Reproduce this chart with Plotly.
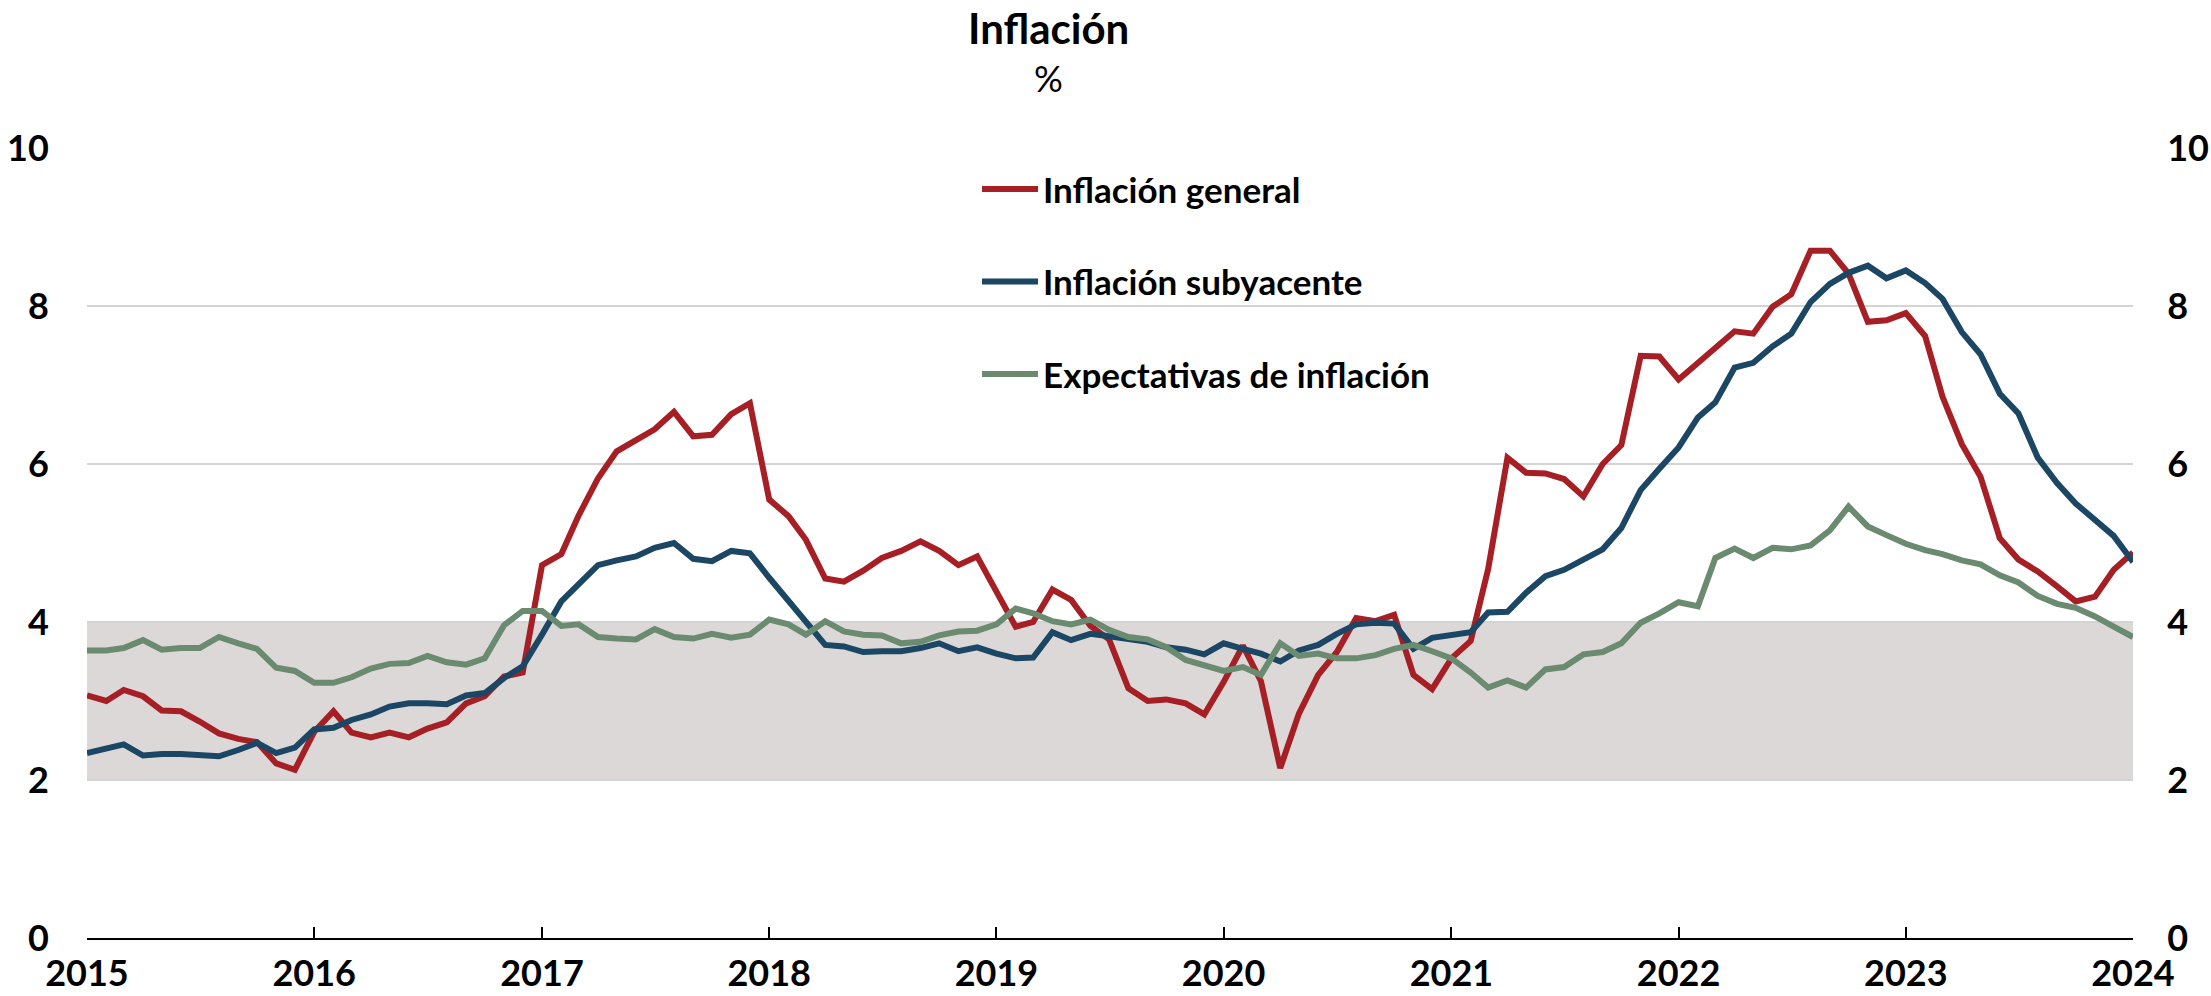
import pandas as pd
import plotly.graph_objects as go

# Monthly dates, Jan 2015 - Jan 2024
dates = pd.date_range("2015-01-01", "2024-01-01", freq="MS")

# Inflación general (% anual)
general = [
    3.07, 3.00, 3.14, 3.06, 2.88, 2.87, 2.74, 2.59, 2.52, 2.48, 2.21, 2.13,
    2.61, 2.87, 2.60, 2.54, 2.60, 2.54, 2.65, 2.73, 2.97, 3.06, 3.31, 3.36,
    4.72, 4.86, 5.35, 5.82, 6.16, 6.31, 6.44, 6.66, 6.35, 6.37, 6.63, 6.77,
    5.55, 5.34, 5.04, 4.55, 4.51, 4.65, 4.81, 4.90, 5.02, 4.90, 4.72, 4.83,
    4.37, 3.94, 4.00, 4.41, 4.28, 3.95, 3.78, 3.16, 3.00, 3.02, 2.97, 2.83,
    3.24, 3.70, 3.25, 2.15, 2.84, 3.33, 3.62, 4.05, 4.01, 4.09, 3.33, 3.15,
    3.54, 3.76, 4.67, 6.08, 5.89, 5.88, 5.81, 5.59, 6.00, 6.24, 7.37, 7.36,
    7.07, 7.28, 7.45, 7.68, 7.65, 7.99, 8.15, 8.70, 8.70, 8.41, 7.80, 7.82,
    7.91, 7.62, 6.85, 6.25, 5.84, 5.06, 4.79, 4.64, 4.45, 4.26, 4.32, 4.66,
    4.88,
]

# Inflación subyacente
subyacente = [
    2.34, 2.40, 2.45, 2.31, 2.33, 2.33, 2.31, 2.30, 2.38, 2.47, 2.34, 2.41,
    2.64, 2.66, 2.76, 2.83, 2.93, 2.97, 2.97, 2.96, 3.07, 3.10, 3.29, 3.44,
    3.84, 4.26, 4.48, 4.72, 4.78, 4.83, 4.94, 5.00, 4.80, 4.77, 4.90, 4.87,
    4.56, 4.27, 4.02, 3.71, 3.69, 3.62, 3.63, 3.63, 3.67, 3.73, 3.63, 3.68,
    3.60, 3.54, 3.55, 3.87, 3.77, 3.85, 3.82, 3.78, 3.75, 3.68, 3.65, 3.59,
    3.73, 3.66, 3.60, 3.50, 3.64, 3.71, 3.85, 3.97, 3.99, 3.98, 3.66, 3.80,
    3.84, 3.87, 4.12, 4.13, 4.37, 4.58, 4.66, 4.78, 4.92, 5.19, 5.67, 5.94,
    6.21, 6.59, 6.78, 7.22, 7.28, 7.49, 7.65, 8.05, 8.28, 8.42, 8.51, 8.35,
    8.45, 8.29, 8.09, 7.67, 7.39, 6.89, 6.64, 6.08, 5.76, 5.50, 5.30, 5.09,
    4.76,
]

# Expectativas de inflación
expectativas = [
    3.64, 3.64, 3.67, 3.77, 3.65, 3.67, 3.67, 3.81, 3.73, 3.66, 3.42, 3.38,
    3.23, 3.23, 3.30, 3.41, 3.47, 3.48, 3.57, 3.49, 3.46, 3.54, 3.96, 4.14,
    4.14, 3.95, 3.97, 3.81, 3.79, 3.78, 3.91, 3.81, 3.79, 3.85, 3.80, 3.84,
    4.03, 3.97, 3.84, 4.01, 3.88, 3.84, 3.83, 3.73, 3.75, 3.83, 3.88, 3.89,
    3.97, 4.17, 4.11, 4.01, 3.97, 4.03, 3.90, 3.81, 3.78, 3.68, 3.52, 3.45,
    3.38, 3.43, 3.33, 3.73, 3.57, 3.60, 3.54, 3.54, 3.58, 3.66, 3.71, 3.63,
    3.54, 3.36, 3.17, 3.26, 3.17, 3.40, 3.43, 3.59, 3.62, 3.73, 3.99, 4.11,
    4.25, 4.20, 4.81, 4.93, 4.81, 4.94, 4.92, 4.97, 5.16, 5.46, 5.21, 5.10,
    4.99, 4.91, 4.86, 4.78, 4.73, 4.59, 4.50, 4.33, 4.23, 4.18, 4.07, 3.94,
    3.81,
]

# Target band (3% +/- 1)
band_low, band_high = 2, 4

year_ticks = pd.date_range("2015-01-01", "2024-01-01", freq="YS")
year_labels = [str(d.year) for d in year_ticks]
y_ticks = [0, 2, 4, 6, 8, 10]

FONT = "Lato"
tick_font = dict(family=FONT, size=36, weight="bold")

fig = go.Figure()

fig.add_trace(go.Scatter(x=dates, y=general, mode="lines", name="Inflación general",
                         line=dict(color="#a61f24", width=6), legendgroup="a"))
fig.add_trace(go.Scatter(x=dates, y=subyacente, mode="lines", name="Inflación subyacente",
                         line=dict(color="#1b4765", width=6), legendgroup="b"))
fig.add_trace(go.Scatter(x=dates, y=expectativas, mode="lines", name="Expectativas de inflación",
                         line=dict(color="#6a8b6f", width=6), legendgroup="c"))
# invisible trace so the right-hand axis is drawn
fig.add_trace(go.Scatter(x=dates, y=general, yaxis="y2", mode="lines", line=dict(width=0),
                         showlegend=False, hoverinfo="skip"))

fig.add_shape(type="rect", xref="paper", yref="y", x0=0, x1=1, y0=band_low, y1=band_high,
              fillcolor="#dcd8d8", line_width=0, layer="below")

fig.update_layout(
    width=2211, height=996,
    paper_bgcolor="white", plot_bgcolor="white",
    margin=dict(l=87, r=78, t=148, b=58),
    font=dict(family=FONT, size=30, color="black"),
    showlegend=True,
    legend=dict(x=0.435, y=0.985, xanchor="left", yanchor="top",
                font=dict(family=FONT, size=35, weight="bold"),
                traceorder="grouped", tracegroupgap=44, itemwidth=56,
                bgcolor="rgba(0,0,0,0)"),
    xaxis=dict(type="date", range=[dates[0], dates[-1]],
               tickvals=year_ticks, ticktext=year_labels,
               ticks="inside", ticklen=11, tickwidth=2, tickcolor="black",
               showline=True, linecolor="black", linewidth=2,
               showgrid=False, zeroline=False, ticklabelstandoff=3,
               tickfont=tick_font, automargin=False),
    yaxis=dict(range=[0, 10], tickvals=y_ticks, showgrid=True,
               gridcolor="#d4d4d4", gridwidth=2, zeroline=False, showline=False,
               ticks="outside", ticklen=30, tickcolor="rgba(0,0,0,0)",
               tickfont=tick_font, automargin=False),
    yaxis2=dict(range=[0, 10], tickvals=y_ticks, overlaying="y", side="right",
                showgrid=False, zeroline=False, showline=False,
                ticks="outside", ticklen=26, tickcolor="rgba(0,0,0,0)",
                tickfont=tick_font, automargin=False),
    annotations=[
        dict(text="<b>Inflación</b>", x=0.4697, y=1.152, xref="paper", yref="paper",
             xanchor="center", yanchor="middle", showarrow=False,
             font=dict(family=FONT, size=42)),
        dict(text="%", x=0.4697, y=1.088, xref="paper", yref="paper",
             xanchor="center", yanchor="middle", showarrow=False,
             font=dict(family=FONT, size=36)),
    ],
)

# drop the default page margin so the figure fills the window exactly
fig.write_html("out.html", config={"displayModeBar": False},
               post_script="document.body.style.margin='0';")
